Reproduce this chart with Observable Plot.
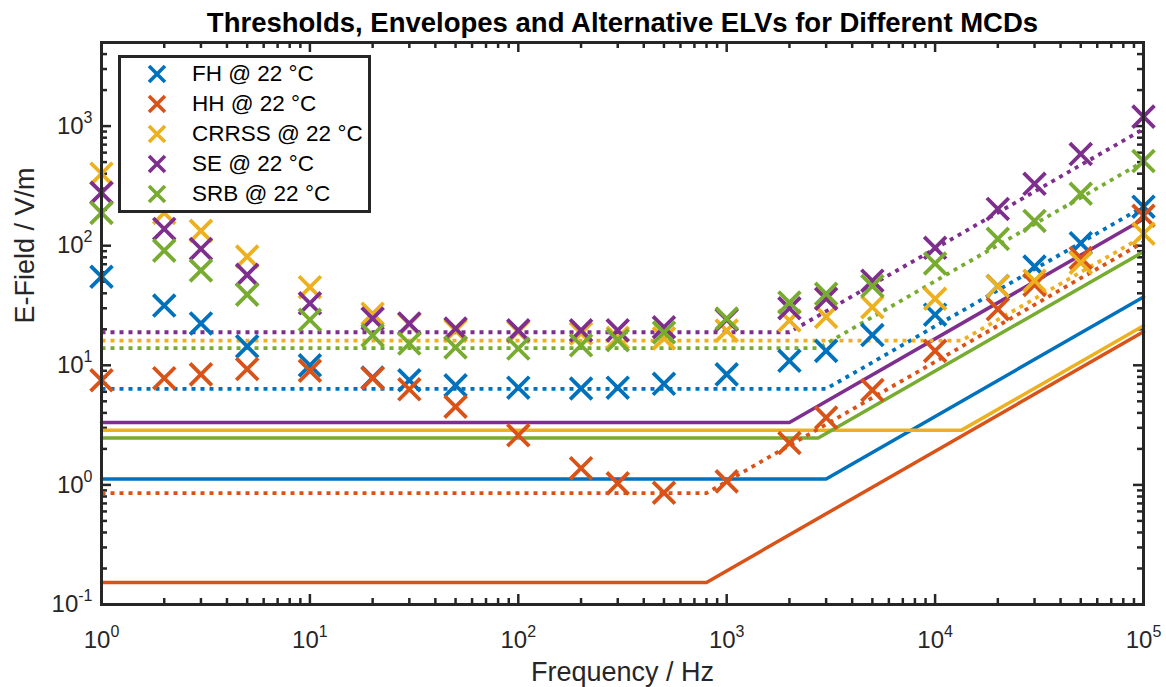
<!DOCTYPE html>
<html>
<head>
<meta charset="utf-8">
<script src="https://cdn.jsdelivr.net/npm/d3@7"></script>
<script src="https://cdn.jsdelivr.net/npm/@observablehq/plot@0.6"></script>
<style>
  html, body { margin: 0; padding: 0; background: #fff; }
  #wrap { position: relative; width: 1166px; height: 687px; font-family: "Liberation Sans", Arial, Helvetica, sans-serif; }
  #legend { position: absolute; left: 118px; top: 55px; width: 253px; height: 158px; box-sizing: border-box; border: 3.5px solid #262626; background: #fff; }
  .lrow { position: absolute; left: 0; height: 26px; width: 245px; }
  .lrow svg { position: absolute; left: 24px; top: 1px; }
  .lrow span { position: absolute; left: 71px; top: 0; line-height: 26px; font-size: 22.5px; color: #000; white-space: nowrap; }
</style>
</head>
<body>
<div id="wrap">
  <div id="chart"></div>
  <div id="legend"></div>
</div>
<script>
// ---- data ----
const freqs = [1, 2, 3, 5, 10, 20, 30, 50, 100, 200, 300, 500, 1000, 2000, 3000, 5000, 10000, 20000, 30000, 50000, 100000];
const seriesNames = ["FH @ 22 °C", "HH @ 22 °C", "CRRSS @ 22 °C", "SE @ 22 °C", "SRB @ 22 °C"];
const seriesColors = ["#0072BD", "#D95319", "#EDB120", "#7E2F8E", "#77AC30"];

// measured thresholds (crosses), V/m
const fhE    = [55, 31.6, 22.4, 14.4, 10, 7.9, 7.5, 6.8, 6.5, 6.4, 6.5, 7.0, 8.4, 10.9, 13.2, 17.9, 26.5, 46, 67, 105, 212];
const hhE    = [7.5, 7.8, 8.4, 9.3, 9.0, 7.8, 6.3, 4.5, 2.6, 1.38, 1.03, 0.86, 1.07, 2.24, 3.65, 6.2, 13.2, 29.5, 47, 79, 178];
const crrssE = [400, 188, 133, 81, 45, 27, 22, 19.5, 19, 18.5, 17, 16.8, 19.5, 23.7, 25.4, 30.6, 36, 46, 51, 72, 126];
const seE    = [277, 138, 94, 57, 33, 24.6, 22.4, 20.3, 19.6, 19.6, 19.6, 20.8, 24, 30, 36, 51, 96, 203, 329, 584, 1200];
const srbE   = [188, 91, 62, 39, 24, 17.8, 15.2, 14.1, 13.8, 14.7, 16.2, 18.8, 24.6, 33.5, 39.6, 46, 71, 114, 161, 272, 510];

// solid lines (thresholds) : corner points
const fhThrF = [1, 3000, 100000],    fhThrE = [1.12, 1.12, 37.3];
const hhThrF = [1, 800, 100000],     hhThrE = [0.153, 0.153, 19.1];
const crThrF = [1, 13400, 100000],   crThrE = [2.87, 2.87, 21.4];
const seThrF = [1, 2000, 100000],    seThrE = [3.33, 3.33, 167];
const srbThrF = [1, 2750, 100000],   srbThrE = [2.47, 2.47, 89];

// dotted lines (envelopes) : corner points
const fhEnvF = [1, 3000, 100000],    fhEnvE = [6.35, 6.35, 212];
const hhEnvF = [1, 800, 100000],     hhEnvE = [0.855, 0.855, 107];
const crEnvF = [1, 13400, 100000],   crEnvE = [16.1, 16.1, 120];
const seEnvF = [1, 2000, 100000],    seEnvE = [18.9, 18.9, 945];
const srbEnvF = [1, 2750, 100000],   srbEnvE = [13.9, 13.9, 505];

const xMajor = [1, 10, 100, 1000, 10000, 100000];
const yMajor = [0.1, 1, 10, 100, 1000];
const titleText = "Thresholds, Envelopes and Alternative ELVs for Different MCDs";
const xLabel = "Frequency / Hz";
const yLabel = "E-Field / V/m";

// ---- tables ----
const measured = [fhE, hhE, crrssE, seE, srbE];
const thrF = [fhThrF, hhThrF, crThrF, seThrF, srbThrF];
const thrE = [fhThrE, hhThrE, crThrE, seThrE, srbThrE];
const envF = [fhEnvF, hhEnvF, crEnvF, seEnvF, srbEnvF];
const envE = [fhEnvE, hhEnvE, crEnvE, seEnvE, srbEnvE];

const measRows = [];
measured.forEach((arr, si) => arr.forEach((e, i) => measRows.push({s: seriesNames[si], f: freqs[i], e})));
const thrRows = [], envRows = [];
thrF.forEach((fs, si) => fs.forEach((f, i) => thrRows.push({s: seriesNames[si], f, e: thrE[si][i]})));
envF.forEach((fs, si) => fs.forEach((f, i) => envRows.push({s: seriesNames[si], f, e: envE[si][i]})));

const xMinor = [];
for (let k = 0; k < 5; k++) for (let m = 2; m <= 9; m++) xMinor.push(m * 10 ** k);
const yMinor = [];
for (let k = -1; k <= 3; k++) for (let m = 2; m <= 9; m++) { const v = m * 10 ** k; if (v <= 5000) yMinor.push(+v.toPrecision(3)); }

const W = 1166, H = 687, mL = 101, mR = 23, mT = 42, mB = 83;
const fw = W - mL - mR, fh = H - mT - mB;
const axisCol = "#262626";
const font = '"Liberation Sans", Arial, Helvetica, sans-serif';
const expFmt = d => String(Math.round(Math.log10(d)));

const chart = Plot.plot({
  width: W, height: H,
  marginLeft: mL, marginRight: mR, marginTop: mT, marginBottom: mB,
  x: {type: "log", domain: [1, 100000]},
  y: {type: "log", domain: [0.1, 5000]},
  color: {domain: seriesNames, range: seriesColors},
  style: {fontFamily: font, fontSize: "24px", color: axisCol, background: "white", overflow: "visible"},
  marks: [
    // ticks (inward, all four sides)
    Plot.tickX(xMajor, {x: d => d, insetTop: fh - 10, stroke: axisCol, strokeWidth: 2.5}),
    Plot.tickX(xMinor, {x: d => d, insetTop: fh - 6, stroke: axisCol, strokeWidth: 2.5}),
    Plot.tickX(xMajor, {x: d => d, insetBottom: fh - 10, stroke: axisCol, strokeWidth: 2.5}),
    Plot.tickX(xMinor, {x: d => d, insetBottom: fh - 6, stroke: axisCol, strokeWidth: 2.5}),
    Plot.tickY(yMajor, {y: d => d, insetRight: fw - 10, stroke: axisCol, strokeWidth: 2.5}),
    Plot.tickY(yMinor, {y: d => d, insetRight: fw - 6, stroke: axisCol, strokeWidth: 2.5}),
    Plot.tickY(yMajor, {y: d => d, insetLeft: fw - 10, stroke: axisCol, strokeWidth: 2.5}),
    Plot.tickY(yMinor, {y: d => d, insetLeft: fw - 6, stroke: axisCol, strokeWidth: 2.5}),
    // lines
    Plot.line(thrRows, {x: "f", y: "e", z: "s", stroke: "s", strokeWidth: 3.5}),
    Plot.line(envRows, {x: "f", y: "e", z: "s", stroke: "s", strokeWidth: 3.8, strokeDasharray: "4,5", strokeLinecap: "butt", strokeLinejoin: "miter"}),
    // crosses
    Plot.dot(measRows, {x: "f", y: "e", stroke: "s", symbol: "times", r: 10, strokeWidth: 3.8}),
    Plot.frame({stroke: axisCol, strokeWidth: 3}),
    Plot.axisX(xMajor, {tickSize: 0, tickPadding: 26, tickFormat: expFmt, fontSize: 24, label: null}),
    Plot.axisY(yMajor, {tickSize: 0, tickPadding: 9, tickFormat: expFmt, fontSize: 24, label: null}),
    Plot.text([xLabel], {text: d => d, frameAnchor: "bottom", lineAnchor: "middle", dy: 68, fontSize: 27, fill: axisCol}),
    Plot.text([yLabel], {text: d => d, frameAnchor: "left", lineAnchor: "middle", dx: -76, rotate: -90, fontSize: 27, fill: axisCol}),
    Plot.text([titleText], {text: d => d, frameAnchor: "top", lineAnchor: "middle", dy: -19.5, fontSize: 27.5, fontWeight: "bold", fill: "#000"})
  ]
});
document.getElementById("chart").appendChild(chart);

// superscript tick labels: 10^k
chart.querySelectorAll('[aria-label="x-axis tick label"] text, [aria-label="y-axis tick label"] text').forEach(t => {
  const k = t.textContent;
  t.textContent = "";
  t.appendChild(document.createTextNode("10"));
  const sp = document.createElementNS("http://www.w3.org/2000/svg", "tspan");
  sp.setAttribute("font-size", "16");
  sp.setAttribute("dy", "-11");
  sp.textContent = k;
  t.appendChild(sp);
});

// legend
const legend = document.getElementById("legend");
seriesNames.forEach((name, i) => {
  const row = document.createElement("div");
  row.className = "lrow";
  row.style.top = (3 + 30 * i) + "px";
  row.innerHTML = `<svg width="24" height="24" viewBox="-12 -12 24 24"><path d="M-8,-8L8,8M-8,8L8,-8" stroke="${seriesColors[i]}" stroke-width="3.6" fill="none"/></svg><span>${name}</span>`;
  legend.appendChild(row);
});
</script>
</body>
</html>
